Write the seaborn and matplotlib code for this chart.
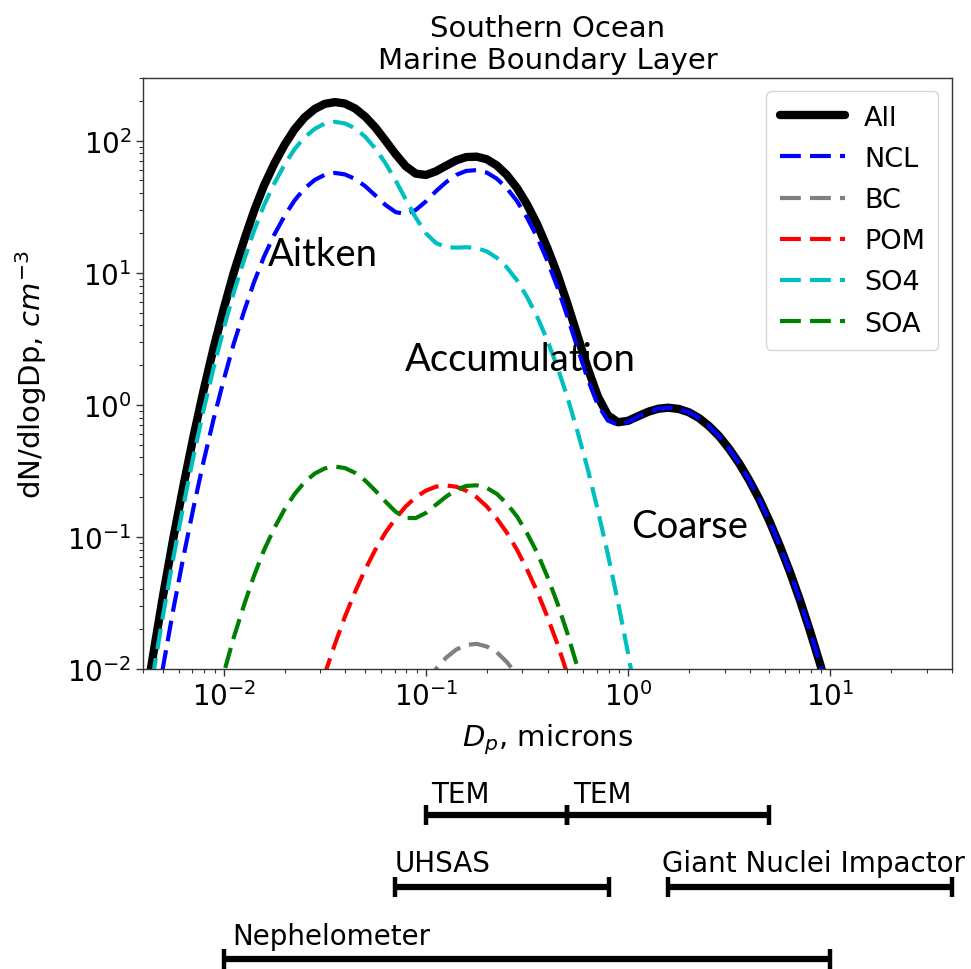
import numpy as np
import pandas as pd
import matplotlib
matplotlib.use("Agg")
import matplotlib.pyplot as plt
import seaborn as sns

# ---------------- data ----------------
nan = np.nan
# particle diameter (microns), log-spaced sample points
dp = [0.00398, 0.00447, 0.00501, 0.00562, 0.00631, 0.00708, 0.00794, 0.00891,
      0.0100, 0.0112, 0.0126, 0.0141, 0.0158, 0.0178, 0.0200, 0.0224, 0.0251,
      0.0282, 0.0316, 0.0355, 0.0398, 0.0447, 0.0501, 0.0562, 0.0631, 0.0708,
      0.0794, 0.0891, 0.100, 0.112, 0.126, 0.141, 0.158, 0.178, 0.200, 0.224,
      0.251, 0.282, 0.316, 0.355, 0.398, 0.447, 0.501, 0.562, 0.631, 0.708,
      0.794, 0.891, 1.00, 1.12, 1.26, 1.41, 1.58, 1.78, 2.00, 2.24, 2.51, 2.82,
      3.16, 3.55, 3.98, 4.47, 5.01, 5.62, 6.31, 7.08, 7.94, 8.91, 10.0]

all_vals = [0.0042, 0.0127, 0.0360, 0.0962, 0.242, 0.574, 1.28, 2.70, 5.35, 10.0,
            17.6, 29.2, 45.6, 67.2, 93.2, 122, 150, 174, 190, 196, 191, 175, 152,
            126, 100, 79.1, 64.1, 56.3, 55.0, 58.6, 64.7, 70.9, 75.1, 75.7, 72.3,
            65.0, 55.1, 43.9, 33.0, 23.3, 15.5, 9.76, 5.83, 3.34, 1.90, 1.16, 0.834,
            0.738, 0.757, 0.820, 0.887, 0.934, 0.951, 0.931, 0.878, 0.795, 0.692,
            0.579, 0.465, 0.359, 0.267, 0.191, 0.131, 0.0861, 0.0546, 0.0332,
            0.0194, 0.0109, 0.0059]

ncl_vals = [0.00123, 0.00369, 0.0104, 0.0279, 0.0702, 0.166, 0.371, 0.782, 1.55,
            2.90, 5.10, 8.45, 13.2, 19.5, 27.0, 35.3, 43.5, 50.5, 55.2, 57.0, 55.5,
            51.3, 45.2, 38.5, 32.6, 28.8, 27.8, 29.9, 34.7, 41.4, 48.6, 55.0, 59.0,
            59.9, 57.3, 51.6, 43.8, 34.9, 26.2, 18.6, 12.4, 7.78, 4.66, 2.70, 1.57,
            1.00, 0.760, 0.706, 0.744, 0.815, 0.885, 0.934, 0.951, 0.931, 0.878,
            0.795, 0.692, 0.579, 0.465, 0.359, 0.267, 0.191, 0.131, 0.0861, 0.0546,
            0.0332, 0.0194, 0.0109, 0.0059]

bc_vals = [nan] * 28 + [0.00768, 0.00998, 0.0122, 0.0140, 0.0152, 0.0155, 0.0148,
                        0.0134, 0.0113, 0.00905, 0.00680] + [nan] * 30

pom_vals = [nan] * 17 + [0.00517, 0.00915, 0.0155, 0.0250, 0.0386, 0.0568, 0.0800,
                         0.108, 0.138, 0.170, 0.200, 0.224, 0.240, 0.245, 0.240,
                         0.224, 0.200, 0.170, 0.138, 0.108, 0.0800, 0.0568, 0.0386,
                         0.0250, 0.0155, 0.00915, 0.00517] + [nan] * 25

so4_vals = [0.0030, 0.0090, 0.0256, 0.0683, 0.172, 0.407, 0.909, 1.91, 3.79, 7.09,
            12.5, 20.7, 32.4, 47.6, 66.1, 86.3, 106, 123, 135, 139, 135, 124, 107,
            87.1, 67.5, 50.0, 36.0, 26.1, 19.9, 16.8, 15.6, 15.5, 15.6, 15.4, 14.5,
            13.0, 11.0, 8.77, 6.58, 4.65, 3.09, 1.93, 1.14, 0.629, 0.328, 0.160,
            0.0740, 0.0321, 0.0131, 0.0050] + [nan] * 19

soa_vals = [nan] * 6 + [0.00222, 0.00468, 0.00928, 0.0173, 0.0305, 0.0506, 0.0791,
                        0.117, 0.162, 0.211, 0.260, 0.302, 0.330, 0.341, 0.332,
                        0.305, 0.267, 0.224, 0.185, 0.155, 0.139, 0.139, 0.152,
                        0.175, 0.202, 0.227, 0.243, 0.246, 0.235, 0.212, 0.179,
                        0.143, 0.107, 0.0759, 0.0504, 0.0315, 0.0186, 0.0103,
                        0.00535, 0.00262] + [nan] * 23

series_names = ["All", "NCL", "BC", "POM", "SO4", "SOA"]
series_vals = [all_vals, ncl_vals, bc_vals, pom_vals, so4_vals, soa_vals]

mode_labels = ["Aitken", "Accumulation", "Coarse"]

instr_names = ["TEM", "TEM", "UHSAS", "Giant Nuclei Impactor", "Nephelometer"]
instr_lo = [0.1, 0.5, 0.07, 1.57, 0.01]
instr_hi = [0.5, 5.0, 0.8, 40.0, 10.0]
instr_row = [0, 0, 1, 1, 2]

# ---------------- styling ----------------
sns.set_style("ticks")
plt.rcParams["font.family"] = ["DejaVu Sans"]
plt.rcParams["font.size"] = 20
plt.rcParams["mathtext.fontset"] = "dejavusans"
for key in ["text.color", "axes.labelcolor", "xtick.color", "ytick.color"]:
    plt.rcParams[key] = "black"

colors = {"All": "black", "NCL": "blue", "BC": "gray", "POM": "red",
          "SO4": "c", "SOA": "green"}

fig = plt.figure(figsize=(9.71, 9.70), dpi=100)
ax = fig.add_axes([0.1476, 0.3093, 0.8328, 0.6096])

df = pd.DataFrame({"dp": dp})
for name, vals in zip(series_names, series_vals):
    df[name] = vals

for name in series_names:
    sub = df[["dp", name]].dropna()
    if name == "All":
        sns.lineplot(data=sub, x="dp", y=name, ax=ax, color=colors[name],
                     lw=6, label=name, estimator=None, sort=True)
    else:
        sns.lineplot(data=sub, x="dp", y=name, ax=ax, color=colors[name],
                     lw=3, linestyle=(0, (5.0, 2.2)), label=name,
                     estimator=None, sort=True)

ax.set_xscale("log")
ax.set_yscale("log")
ax.set_xlim(0.004, 40)
ax.set_ylim(0.01, 300)

for sp in ax.spines.values():
    sp.set_color("#333333")
    sp.set_linewidth(1.0)
ax.tick_params(axis="both", which="major", labelsize=20, length=5, width=1,
               color="#333333", labelcolor="black")
ax.tick_params(axis="both", which="minor", length=3, width=0.8, color="#333333")

ax.set_title("Southern Ocean\nMarine Boundary Layer", fontsize=21, pad=7,
             color="black")
ax.set_xlabel("$D_p$, microns", fontsize=21)
ax.set_ylabel("dN/dlogDp, $cm^{-3}$", fontsize=21)
ax.xaxis.set_label_coords(0.5, -0.118)
ax.xaxis.label.set_va("center")
ax.yaxis.set_label_coords(-0.139, 0.5)
ax.yaxis.label.set_va("center")

leg = ax.legend(loc="upper right", fontsize=19.5, handlelength=2.4,
                handletextpad=0.7, frameon=True, borderpad=0.5,
                labelspacing=0.56)
leg.get_frame().set_edgecolor("#cccccc")
for t in leg.get_texts():
    t.set_color("black")

# mode annotations
mode_pos = [(0.154, 0.702), (0.3236, 0.524), (0.603, 0.242)]
for lab, (px, py) in zip(mode_labels, mode_pos):
    ax.text(px, py, lab, transform=ax.transAxes, fontsize=27.5,
            family=["Lato", "DejaVu Sans"], ha="left", va="center", color="black")

# instrument size-range bars below the axes
trans = ax.get_xaxis_transform()
row_bar_y = [-0.2469, -0.3687, -0.4904]
row_txt_y = [-0.2114, -0.3281, -0.4515]
txt_off = [4, 4, 0, -4, 6]
for nm, lo, hi, r, off in zip(instr_names, instr_lo, instr_hi, instr_row, txt_off):
    ax.plot([lo, hi], [row_bar_y[r], row_bar_y[r]], transform=trans, clip_on=False,
            color="black", lw=4.5, marker="|", markersize=14,
            markeredgewidth=3.2, solid_capstyle="butt")
    ax.annotate(nm, xy=(lo, row_txt_y[r]), xycoords=trans,
                xytext=(off, 0), textcoords="offset points",
                ha="left", va="center", fontsize=20, annotation_clip=False,
                color="black")

ax.set_xlim(0.004, 40)
ax.set_ylim(0.01, 300)
fig.savefig("out.png", dpi=100)
